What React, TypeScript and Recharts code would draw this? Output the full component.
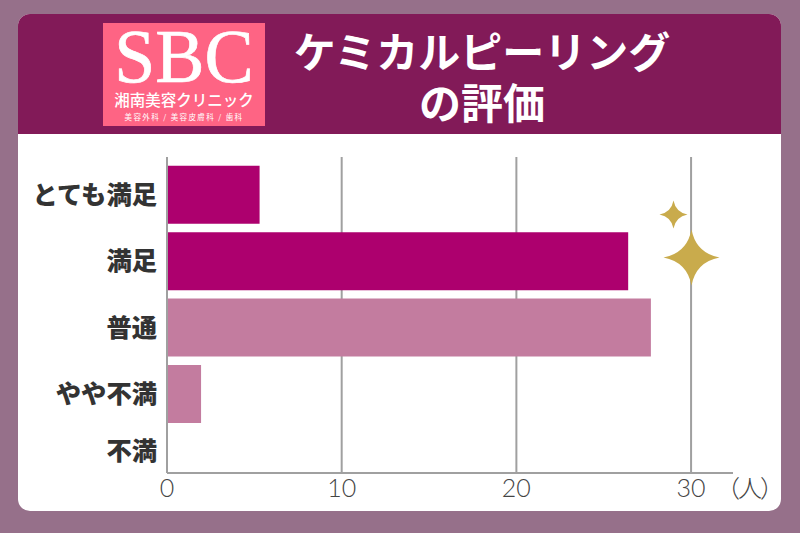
import { BarChart, Bar, Cell, XAxis, YAxis, CartesianGrid } from 'recharts'

const categories = ['とても満足', '満足', '普通', 'やや不満', '不満']
const values = [5.3, 26.4, 27.7, 1.95, 0]
const barColors = ['#ad006e', '#ad006e', '#c37c9f', '#c37c9f', '#c37c9f']
const xTicks = [0, 10, 20, 30]
const yTicks = [0, 1, 2, 3, 4]

const rows = categories.map((name, i) => ({ name, pos: i, value: values[i] }))

const jp = '"Noto Sans CJK JP", sans-serif'

function CategoryTick({ x, y, payload }: any) {
  // last row sits in the shorter band above the axis
  const shift = payload.value === 4 ? -12 : -2
  return (
    <text
      x={x - 4}
      y={y + shift}
      textAnchor="end"
      dominantBaseline="central"
      fontFamily={jp}
      fontWeight={900}
      fontSize={25.3}
      fill="#333"
    >
      {categories[payload.value]}
    </text>
  )
}

function Sparkle({ cx, cy, r }: { cx: number; cy: number; r: number }) {
  const k = r * 0.16
  return (
    <path
      fill="#c9ab4c"
      d={`M${cx} ${cy - r} Q${cx + k} ${cy - k} ${cx + r} ${cy} Q${cx + k} ${cy + k} ${cx} ${cy + r} Q${cx - k} ${cy + k} ${cx - r} ${cy} Q${cx - k} ${cy - k} ${cx} ${cy - r}Z`}
    />
  )
}

export default function App() {
  return (
    <div style={{ position: 'absolute', left: 0, top: 0, width: 800, height: 533, background: '#96708a', overflow: 'hidden' }}>
      <div style={{ position: 'absolute', left: 18, top: 14, width: 763, height: 497, background: '#fff', borderRadius: 12, overflow: 'hidden' }}>
        <div style={{ height: 120, background: '#821a58' }} />
      </div>

      {/* logo */}
      <div style={{ position: 'absolute', left: 103, top: 23, width: 162, height: 103, background: '#fe6484', color: '#fff', textAlign: 'center' }}>
        <div style={{ position: 'absolute', left: 0, right: 0, top: 3, fontFamily: '"Liberation Serif", serif', fontSize: 76, lineHeight: '60px', transform: 'scaleX(0.97)', WebkitTextStroke: '0.7px #fff' }}>SBC</div>
        <div style={{ position: 'absolute', left: 0, right: 0, top: 68, fontFamily: jp, fontSize: 15.5, lineHeight: '17px', fontWeight: 500, whiteSpace: 'nowrap' }}>湘南美容クリニック</div>
        <div style={{ position: 'absolute', left: 0, right: 0, top: 89, fontFamily: jp, fontSize: 7.5, lineHeight: '10px', letterSpacing: 1.4, whiteSpace: 'nowrap' }}>美容外科 / 美容皮膚科 / 歯科</div>
      </div>

      {/* title */}
      <div style={{ position: 'absolute', left: 265, width: 434, top: 27, color: '#fff', textAlign: 'center', fontFamily: jp, fontWeight: 700, fontSize: 42, lineHeight: '46px' }}>
        ケミカルピーリング
      </div>
      <div style={{ position: 'absolute', left: 265, width: 434, top: 78, color: '#fff', textAlign: 'center', fontFamily: jp, fontWeight: 700, fontSize: 42, lineHeight: '46px' }}>
        の評価
      </div>

      <div style={{ position: 'absolute', left: 0, top: 0 }}>
        <BarChart
          width={800}
          height={533}
          data={rows}
          layout="vertical"
          margin={{ top: 157, right: 67, bottom: 20, left: 0 }}
        >
          <CartesianGrid horizontal={false} syncWithTicks stroke="#a0a0a0" strokeWidth={2} />
          <XAxis
            type="number"
            domain={[0, 32.4]}
            ticks={xTicks}
            height={40}
            stroke="#a0a0a0"
            strokeWidth={2}
            tickLine={false}
            tick={{ fill: '#444', fontFamily: 'Lato, sans-serif', fontWeight: 300, fontSize: 25 }}
            tickMargin={0}
          />
          <YAxis
            type="number"
            dataKey="pos"
            allowDataOverflow
            domain={[-0.572, 4.187]}
            ticks={yTicks}
            interval={0}
            width={167}
            stroke="#a0a0a0"
            strokeWidth={2}
            tickLine={false}
            tickMargin={0}
            tick={<CategoryTick />}
          />
          <Bar dataKey="value" barSize={58} isAnimationActive={false}>
            {rows.map((r, i) => (
              <Cell key={r.name} fill={barColors[i]} />
            ))}
          </Bar>
        </BarChart>
      </div>

      <svg width={800} height={533} style={{ position: 'absolute', left: 0, top: 0 }}>
        <Sparkle cx={673.5} cy={214.5} r={14} />
        <Sparkle cx={691.5} cy={257.5} r={28} />
        <text x={716} y={497} fontFamily={jp} fontWeight={300} fontSize={24} fill="#444" letterSpacing={-2}>（人）</text>
      </svg>
    </div>
  )
}
